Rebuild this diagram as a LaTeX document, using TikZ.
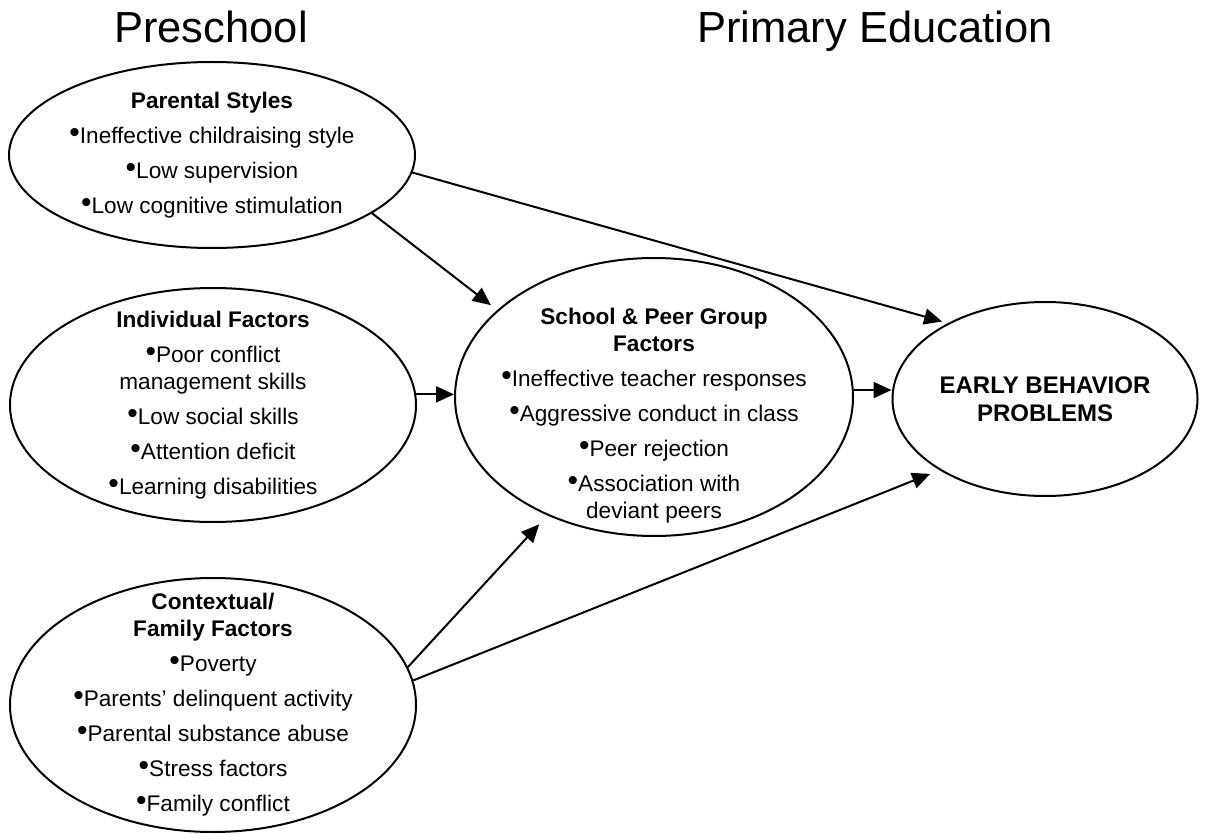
\documentclass[tikz,border=0pt]{standalone}
\usepackage{fontspec}
\setmainfont{Liberation Sans}
\usetikzlibrary{shapes.geometric,arrows.meta}
\newcommand{\bul}{\raisebox{0.5pt}{\fontsize{15}{15}\selectfont•}}

\begin{document}
\begin{tikzpicture}[x=0.5pt,y=-0.5pt,
		bub/.style={draw, ellipse, line width=1pt, inner sep=-40pt, align=center, font=\fontsize{11.3}{13.5}\selectfont},
		arr/.style={line width=1pt, -{Triangle[length=9pt,width=8pt]}}]
		%%%%% START %%%%%
		\useasboundingbox (0,0) rectangle (1226,834);
		
		\node[font=\fontsize{21.75}{26}\selectfont, anchor=base] (pre) at (211,43) {Preschool};
		\node[font=\fontsize{21.75}{26}\selectfont, anchor=base] (pri) at (875,43) {Primary Education};
		
		\node[bub, minimum width=203pt, minimum height=93pt] (par) at (212,155) {\textbf{Parental Styles}\\[4pt]\bul Ineffective childraising style\\[4pt]\bul Low supervision\\[4pt]\bul Low cognitive stimulation};
		
		\node[bub, minimum width=203pt, minimum height=117pt] (ind) at (213,405) {\textbf{Individual Factors}\\[4pt]\bul Poor conflict\\management skills\\[4pt]\bul Low social skills\\[4pt]\bul Attention deficit\\[4pt]\bul Learning disabilities};
		
		\node[bub, minimum width=203pt, minimum height=127pt] (ctx) at (213,705) {\textbf{Contextual/}\\\textbf{Family Factors}\\[4pt]\bul Poverty\\[4pt]\bul Parents’ delinquent activity\\[4pt]\bul Parental substance abuse\\[4pt]\bul Stress factors\\[4pt]\bul Family conflict};
		
		\node[bub, minimum width=199pt, minimum height=139pt] (sch) at (654,397) {\rule{0pt}{27pt}\textbf{School \& Peer Group}\\\textbf{Factors}\\[4pt]\bul Ineffective teacher responses\\[4pt]\bul Aggressive conduct in class\\[4pt]\bul Peer rejection\\[4pt]\bul Association with\\deviant peers};
		
		\node[bub, minimum width=152.5pt, minimum height=97pt, font=\fontsize{12}{14}\selectfont\bfseries] (ebp) at (1045,399) {EARLY BEHAVIOR\\PROBLEMS};
		
		\draw[arr, shorten >=3pt] (par.-5) -- (ebp.142);
		\draw[arr, shorten >=4pt] (par.-20) -- (sch.151);
		\draw[arr] (ind.3) -- (ind.3 -| sch.west);
		\draw[arr] (sch.2) -- (sch.2 -| ebp.west);
		\draw[arr, shorten >=6pt] (ctx.11) -- (sch.228);
		\draw[arr, shorten >=5pt] (ctx.7) -- (ebp.214);
		%%%%% END %%%%%
	\end{tikzpicture}
\end{document}
